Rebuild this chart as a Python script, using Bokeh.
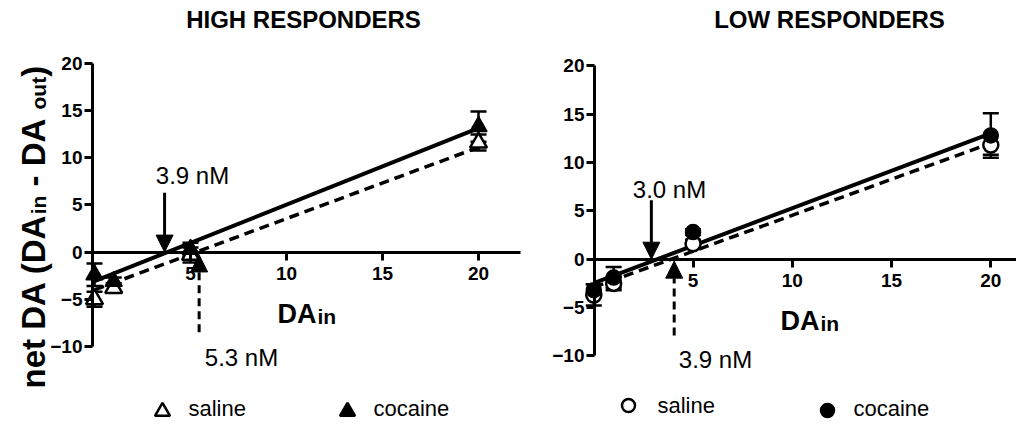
import math
from bokeh.plotting import figure
from bokeh.layouts import row
from bokeh.models import (Range1d, LinearAxis, FixedTicker, Whisker, TeeHead,
                          Arrow, NormalHead, Label, ColumnDataSource)
from bokeh.embed import file_html
from bokeh.resources import INLINE

FONT = "Liberation Sans"

# ---------------- data ----------------
dose = [0, 1, 5, 20]                      # DA in (nM)
x_ticks = [5, 10, 15, 20]
y_ticks = [-10, -5, 0, 5, 10, 15, 20]

high_saline = [-5.0, -3.8, -0.3, 11.6]
high_saline_sem = [0.8, 0.5, 0.8, 0.85]
high_cocaine = [-2.4, -3.1, 0.3, 13.3]
high_cocaine_sem = [1.2, 0.4, 0.7, 1.6]

low_saline = [-3.7, -2.5, 1.6, 11.8]
low_saline_sem = [1.1, 0.7, 0.4, 1.0]
low_cocaine = [-3.2, -1.9, 2.8, 12.8]
low_cocaine_sem = [0.6, 1.1, 0.3, 2.3]

# linear fits (saline, cocaine): slope and x-intercept
fit_x = [0, 20]
high_fit_slope = [0.755, 0.81]
high_fit_xint = [5.3, 3.8]
low_fit_slope = [0.745, 0.774]
low_fit_xint = [3.9, 3.2]

# point-of-no-net-flux arrows (saline, cocaine)
high_arrow_x = [5.45, 3.65]
high_arrow_y0 = [-8.5, 6.3]
high_arrow_y1 = [-0.3, 0.0]
high_arrow_text = ["5.3 nM", "3.9 nM"]
low_arrow_x = [4.05, 2.9]
low_arrow_y0 = [-7.9, 6.1]
low_arrow_y1 = [-0.2, 0.0]
low_arrow_text = ["3.9 nM", "3.0 nM"]

legend_labels = ["saline", "cocaine"]

# ---------------- layout helpers ----------------
FIG_H = 420
TOP, BOTTOM = 0, 420  # picture px of figure top / bottom
MID = 0.35            # middle of text box above the baseline, in em

geo_high = dict(left=0, right=530, x0=94.0, xs=19.2, y0=251.6, ys=9.44)
geo_low = dict(left=530, right=1016, x0=593.3, xs=19.85, y0=258.7, ys=9.67)


def dx(g, px):
    return (px - g["x0"]) / g["xs"]


def dy(g, py):
    return (g["y0"] - py) / g["ys"]


BOLD_W = {'n': 611, 'e': 556, 't': 333, ' ': 278, 'D': 722, 'A': 722, '(': 333,
          ')': 333, '-': 333, 'i': 278, 'o': 611, 'u': 611}


def text_w(s, size):
    return sum(BOLD_W[c] for c in s) * size / 1000.0


def style_axis(ax):
    ax.axis_line_width = 3
    ax.axis_line_color = "black"
    ax.major_tick_line_width = 3
    ax.major_tick_line_color = "black"
    ax.major_tick_in = 0
    ax.major_tick_out = 8
    ax.minor_tick_in = 0
    ax.minor_tick_out = 0
    ax.major_label_text_font = FONT
    ax.major_label_text_font_size = "19px"
    ax.major_label_text_font_style = "bold"
    ax.major_label_text_color = "black"


def label(p, g, px, py, text, size, bold=False, align="left", angle=0.0):
    p.add_layout(Label(x=dx(g, px), y=dy(g, py), text=text, text_font=FONT,
                       text_font_size=f"{size}px",
                       text_font_style="bold" if bold else "normal",
                       text_align=align, text_baseline="middle",
                       text_color="black", angle=angle))


def make_panel(g, saline, saline_sem, cocaine, cocaine_sem, slopes, xints,
               arrow_x, arrow_y0, arrow_y1, arrow_text, arrow_text_px,
               marker, msize, title, title_px, xlabel_px, legend_px, yaxis_x, xaxis_end_px):
    width = g["right"] - g["left"]
    p = figure(width=width, height=FIG_H,
               x_range=Range1d(dx(g, g["left"]), dx(g, g["right"])),
               y_range=Range1d(dy(g, BOTTOM), dy(g, TOP)),
               output_backend="svg", toolbar_location=None, min_border=0,
               x_axis_location=None, y_axis_location=None)
    p.outline_line_color = None
    p.background_fill_color = "white"
    p.border_fill_color = "white"
    p.grid.visible = False

    # axes crossing at the origin
    xa = LinearAxis(fixed_location=0, bounds=(yaxis_x, dx(g, xaxis_end_px)),
                    ticker=FixedTicker(ticks=x_ticks))
    style_axis(xa)
    xa.major_label_standoff = 7
    p.add_layout(xa, "below")
    ya = LinearAxis(fixed_location=yaxis_x, bounds=(-10, 20),
                    ticker=FixedTicker(ticks=y_ticks))
    style_axis(ya)
    ya.major_label_standoff = 2
    p.add_layout(ya, "left")

    # fitted lines
    for slope, xint, dash, lw in zip(slopes, xints, ["10 6", "solid"], [3.5, 4]):
        p.line(fit_x, [slope * (x - xint) for x in fit_x], line_color="black",
               line_width=lw, line_dash=dash)

    # error bars
    for vals, sem in ((saline, saline_sem), (cocaine, cocaine_sem)):
        src = ColumnDataSource(dict(x=dose, upper=[v + e for v, e in zip(vals, sem)],
                                    lower=[v - e for v, e in zip(vals, sem)]))
        p.add_layout(Whisker(base="x", upper="upper", lower="lower", source=src,
                             dimension="height", line_width=2.5, line_color="black",
                             upper_head=TeeHead(size=16, line_width=2.5, line_color="black"),
                             lower_head=TeeHead(size=16, line_width=2.5, line_color="black")))

    # points
    p.scatter(dose, saline, marker=marker, size=msize, fill_color="white",
              line_color="black", line_width=2.5)
    p.scatter(dose, cocaine, marker=marker, size=msize, fill_color="black",
              line_color="black", line_width=1.5)

    # arrows + labels
    for ax_, y0_, y1_, dash, txt, (tx, ty) in zip(arrow_x, arrow_y0, arrow_y1,
                                                 ["8 5", "solid"], arrow_text,
                                                 arrow_text_px):
        p.add_layout(Arrow(x_start=ax_, y_start=y0_, x_end=ax_, y_end=y1_,
                           line_width=3, line_color="black", line_dash=dash,
                           end=NormalHead(size=17, fill_color="black",
                                          line_color="black", line_width=1)))
        label(p, g, tx, ty, txt, 24, align="center")

    # title
    label(p, g, title_px[0], title_px[1], title, 24, bold=True, align="center")

    # x-axis label  DA(in), common baseline
    xl, base = xlabel_px
    label(p, g, xl, base - MID * 27, "DA", 27, bold=True)
    label(p, g, xl + text_w("DA", 27) + 1, base - MID * 21, "in", 21, bold=True)

    # legend
    for (mx, my, lx, lb), fill, lab in zip(legend_px, ["white", "black"], legend_labels):
        p.scatter([dx(g, mx)], [dy(g, my)], marker=marker, size=msize - 2,
                  fill_color=fill, line_color="black", line_width=2.5)
        label(p, g, lx, lb - MID * 22, lab, 22)
    return p


p1 = make_panel(geo_high, high_saline, high_saline_sem, high_cocaine, high_cocaine_sem,
                high_fit_slope, high_fit_xint, high_arrow_x, high_arrow_y0, high_arrow_y1,
                high_arrow_text, [(241, 357), (192, 174.5)],
                "triangle", 17, "HIGH RESPONDERS", (303, 19), (277, 323),
                [(162, 411, 188, 416), (347, 411, 373, 416)], dx(geo_high, 92), 520)

p2 = make_panel(geo_low, low_saline, low_saline_sem, low_cocaine, low_cocaine_sem,
                low_fit_slope, low_fit_xint, low_arrow_x, low_arrow_y0, low_arrow_y1,
                low_arrow_text, [(715, 359), (669, 188.5)],
                "circle", 15, "LOW RESPONDERS", (829, 19), (780, 330),
                [(628, 405, 657, 413), (827, 410, 853, 416)], dx(geo_low, 594), 1016)

# rotated y-axis label on the left panel: net DA (DA_in - DA _out), common baseline
pieces = [("net DA (DA", 33), ("in", 21), (" - DA ", 33), ("out", 21), (")", 33)]
BASE_X = 45.0
ypos = 388.0
for txt, sz in pieces:
    body = txt.lstrip(" ")
    lead = text_w(txt[:len(txt) - len(body)], sz)   # SVG drops leading blanks
    label(p1, geo_high, BASE_X - MID * sz, ypos - lead, body.rstrip(" "), sz,
          bold=True, angle=math.pi / 2)
    ypos -= text_w(txt, sz)

layout = row(p1, p2)
open("out.html", "w").write(file_html(layout, INLINE))
